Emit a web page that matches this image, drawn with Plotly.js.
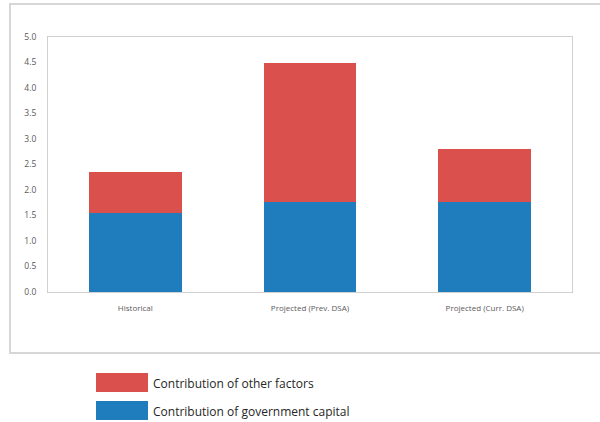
<!DOCTYPE html>
<html>
<head>
<meta charset="utf-8">
<script src="https://cdn.plot.ly/plotly-3.0.1.min.js"></script>
<style>html,body{margin:0;padding:0;background:#fff;}#chart{width:600px;height:422px;}</style>
</head>
<body>
<div id="chart"></div>
<script>
const categories = ["Historical", "Projected (Prev. DSA)", "Projected (Curr. DSA)"];
const govCapital = [1.55, 1.76, 1.76];
const otherFactors = [0.80, 2.73, 1.04];
const seriesNames = ["Contribution of government capital", "Contribution of other factors"];
const yTicks = [0, 0.5, 1, 1.5, 2, 2.5, 3, 3.5, 4, 4.5, 5];

const blue = "#1f7dbd", red = "#d9504c";

const traces = [
  {type: "bar", x: categories, y: govCapital, name: seriesNames[0], marker: {color: blue}, width: 0.53, hoverinfo: "none"},
  {type: "bar", x: categories, y: otherFactors, name: seriesNames[1], marker: {color: red}, width: 0.53, hoverinfo: "none"}
];

// plot area in pixels: left 48, right 572, top 37, bottom 292
const L = 48, R = 572, T = 37, B = 292, W = R - L, H = B - T;
const px = x => (x - L) / W;
const py = y => (B - y) / H;

const layout = {
  width: 600, height: 422,
  margin: {l: L, r: 600 - R, t: T, b: 422 - B},
  barmode: "stack",
  bargap: 0.47,
  showlegend: false,
  paper_bgcolor: "#fff", plot_bgcolor: "#fff",
  font: {family: "Open Sans, Noto Sans, sans-serif", color: "#595959"},
  xaxis: {
    showline: true, linecolor: "#d0d0d0", linewidth: 1, mirror: true,
    showgrid: false, ticks: "", tickfont: {size: 8, color: "#5a5a5a"},
    ticklabelstandoff: 8, fixedrange: true
  },
  yaxis: {
    range: [0, 5], tickvals: yTicks, ticktext: yTicks.map(v => v.toFixed(1)),
    showline: true, linecolor: "#d0d0d0", linewidth: 1, mirror: true,
    showgrid: false, zeroline: false, ticks: "", tickfont: {size: 8.5, color: "#595959"},
    ticklabelstandoff: 9, fixedrange: true
  },
  shapes: [
    {type: "rect", xref: "paper", yref: "paper", x0: px(10), x1: px(610), y0: py(353), y1: py(4),
     line: {color: "#d6d6d6", width: 2}, fillcolor: "rgba(0,0,0,0)", layer: "below"},
    {type: "rect", xref: "paper", yref: "paper", x0: px(96), x1: px(148), y0: py(392), y1: py(373),
     line: {width: 0}, fillcolor: red},
    {type: "rect", xref: "paper", yref: "paper", x0: px(96), x1: px(148), y0: py(420), y1: py(401),
     line: {width: 0}, fillcolor: blue}
  ],
  annotations: [
    {xref: "paper", yref: "paper", x: px(151), y: py(383), xanchor: "left", yanchor: "middle",
     text: seriesNames[1], showarrow: false, font: {size: 12, color: "#262626"}},
    {xref: "paper", yref: "paper", x: px(151), y: py(411.5), xanchor: "left", yanchor: "middle",
     text: seriesNames[0], showarrow: false, font: {size: 12, color: "#262626"}}
  ]
};

Plotly.newPlot("chart", traces, layout, {staticPlot: true, displayModeBar: false});
</script>
</body>
</html>
